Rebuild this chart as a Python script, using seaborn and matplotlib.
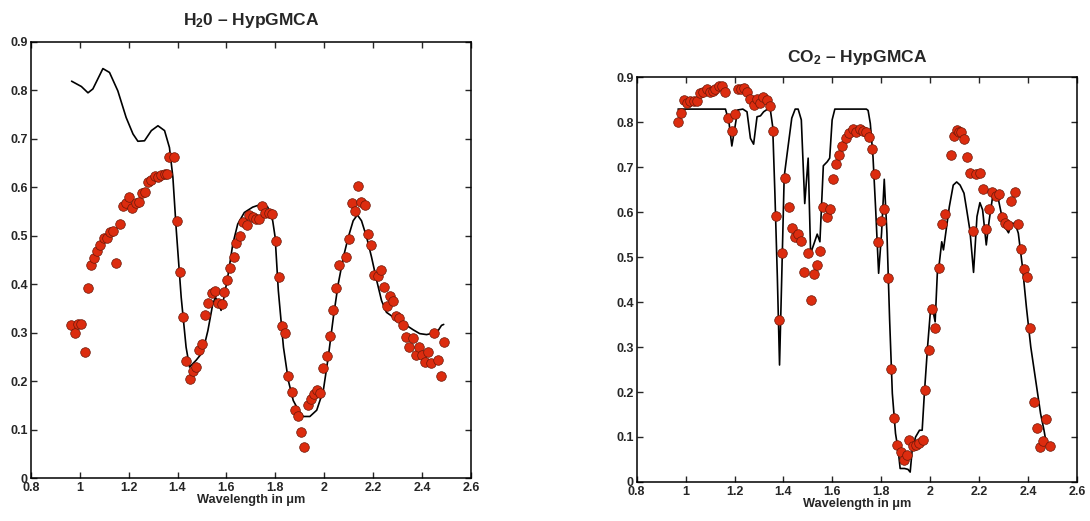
import matplotlib
matplotlib.use("Agg")
import matplotlib.pyplot as plt
import seaborn as sns

# H2O panel - reference spectrum (line) and HypGMCA estimate (dots)
h2o_line_wl = [0.967, 1.007, 1.034, 1.054, 1.095, 1.122, 1.156, 1.19, 1.218, 1.238,
               1.265, 1.293, 1.32, 1.347, 1.367, 1.381, 1.395, 1.415, 1.435, 1.449,
               1.476, 1.503, 1.524, 1.544, 1.555, 1.565, 1.578, 1.588, 1.605, 1.626,
               1.646, 1.673, 1.707, 1.748, 1.769, 1.789, 1.799, 1.812, 1.833, 1.853,
               1.873, 1.894, 1.914, 1.941, 1.969, 1.996, 2.016, 2.037, 2.057, 2.078,
               2.098, 2.118, 2.135, 2.152, 2.173, 2.193, 2.214, 2.234, 2.254, 2.282,
               2.309, 2.336, 2.363, 2.39, 2.418, 2.445, 2.465, 2.479, 2.488]
h2o_line_val = [0.819, 0.808, 0.795, 0.803, 0.845, 0.837, 0.799, 0.744, 0.710, 0.695,
                0.696, 0.717, 0.727, 0.717, 0.682, 0.621, 0.511, 0.373, 0.270, 0.229,
                0.243, 0.260, 0.304, 0.359, 0.373, 0.363, 0.346, 0.368, 0.414, 0.483,
                0.524, 0.548, 0.559, 0.566, 0.559, 0.531, 0.497, 0.387, 0.270, 0.201,
                0.160, 0.140, 0.127, 0.127, 0.140, 0.181, 0.249, 0.332, 0.401, 0.456,
                0.497, 0.531, 0.543, 0.531, 0.497, 0.456, 0.408, 0.366, 0.342, 0.332,
                0.324, 0.315, 0.306, 0.298, 0.296, 0.299, 0.304, 0.315, 0.317]

h2o_pts_wl = [0.966, 0.980, 0.993, 1.007, 1.020, 1.034, 1.045, 1.059, 1.072, 1.084,
              1.098, 1.112, 1.122, 1.136, 1.150, 1.163, 1.177, 1.190, 1.201, 1.215,
              1.229, 1.241, 1.254, 1.268, 1.279, 1.293, 1.306, 1.320, 1.333, 1.347,
              1.358, 1.367, 1.384, 1.396, 1.410, 1.422, 1.435, 1.449, 1.463, 1.476,
              1.487, 1.501, 1.513, 1.525, 1.539, 1.554, 1.566, 1.580, 1.592, 1.603,
              1.616, 1.630, 1.641, 1.654, 1.668, 1.682, 1.694, 1.707, 1.721, 1.735,
              1.746, 1.759, 1.773, 1.786, 1.801, 1.815, 1.829, 1.839, 1.853, 1.867,
              1.879, 1.893, 1.905, 1.918, 1.932, 1.944, 1.958, 1.970, 1.984, 1.996,
              2.010, 2.023, 2.035, 2.049, 2.061, 2.088, 2.101, 2.113, 2.127, 2.139,
              2.151, 2.166, 2.178, 2.192, 2.204, 2.218, 2.230, 2.242, 2.256, 2.269,
              2.282, 2.295, 2.307, 2.320, 2.333, 2.347, 2.361, 2.373, 2.386, 2.399,
              2.411, 2.424, 2.438, 2.450, 2.464, 2.478, 2.488]
h2o_pts_val = [0.316, 0.299, 0.318, 0.318, 0.261, 0.392, 0.440, 0.454, 0.468, 0.481,
               0.495, 0.495, 0.507, 0.509, 0.443, 0.524, 0.561, 0.568, 0.581, 0.557,
               0.568, 0.569, 0.588, 0.591, 0.610, 0.616, 0.624, 0.622, 0.626, 0.627,
               0.627, 0.662, 0.662, 0.531, 0.426, 0.332, 0.241, 0.205, 0.221, 0.229,
               0.265, 0.276, 0.337, 0.361, 0.381, 0.386, 0.361, 0.359, 0.384, 0.408,
               0.433, 0.457, 0.486, 0.500, 0.528, 0.523, 0.543, 0.538, 0.535, 0.535,
               0.561, 0.546, 0.546, 0.545, 0.489, 0.414, 0.313, 0.300, 0.210, 0.177,
               0.141, 0.128, 0.095, 0.064, 0.151, 0.164, 0.174, 0.182, 0.175, 0.227,
               0.251, 0.294, 0.347, 0.392, 0.440, 0.456, 0.493, 0.567, 0.552, 0.603,
               0.569, 0.564, 0.504, 0.481, 0.420, 0.416, 0.430, 0.394, 0.356, 0.375,
               0.365, 0.335, 0.331, 0.315, 0.292, 0.270, 0.289, 0.253, 0.270, 0.253,
               0.239, 0.260, 0.237, 0.299, 0.244, 0.210, 0.280]

# CO2 panel
co2_line_wl = [0.969, 1.163, 1.177, 1.189, 1.202, 1.213, 1.234, 1.251, 1.265, 1.278,
               1.292, 1.306, 1.319, 1.335, 1.346, 1.356, 1.365, 1.375, 1.384, 1.393,
               1.403, 1.417, 1.434, 1.448, 1.460, 1.473, 1.487, 1.501, 1.511, 1.525,
               1.538, 1.549, 1.563, 1.579, 1.589, 1.599, 1.610, 1.739, 1.746, 1.755,
               1.766, 1.777, 1.789, 1.801, 1.812, 1.823, 1.834, 1.845, 1.858, 1.869,
               1.877, 1.895, 1.909, 1.918, 1.926, 1.940, 1.956, 1.967, 1.976, 1.989,
               2.000, 2.010, 2.020, 2.029, 2.037, 2.047, 2.054, 2.065, 2.078, 2.094,
               2.108, 2.122, 2.138, 2.149, 2.162, 2.177, 2.191, 2.203, 2.214, 2.229,
               2.241, 2.255, 2.268, 2.279, 2.293, 2.306, 2.320, 2.333, 2.347, 2.360,
               2.377, 2.393, 2.411, 2.431, 2.451, 2.465, 2.472]
co2_line_val = [0.829, 0.829, 0.801, 0.747, 0.790, 0.827, 0.829, 0.823, 0.764, 0.751,
                0.812, 0.814, 0.823, 0.829, 0.829, 0.790, 0.642, 0.456, 0.260, 0.456,
                0.679, 0.738, 0.809, 0.829, 0.829, 0.805, 0.619, 0.720, 0.508, 0.530,
                0.551, 0.534, 0.703, 0.712, 0.720, 0.805, 0.829, 0.829, 0.826, 0.797,
                0.723, 0.605, 0.464, 0.553, 0.673, 0.553, 0.360, 0.197, 0.108, 0.070,
                0.030, 0.030, 0.028, 0.022, 0.070, 0.100, 0.115, 0.115, 0.197, 0.300,
                0.375, 0.384, 0.356, 0.464, 0.486, 0.534, 0.516, 0.560, 0.612, 0.660,
                0.667, 0.660, 0.642, 0.605, 0.560, 0.466, 0.590, 0.621, 0.605, 0.527,
                0.582, 0.634, 0.638, 0.627, 0.590, 0.567, 0.554, 0.575, 0.575, 0.553,
                0.478, 0.389, 0.300, 0.226, 0.152, 0.115, 0.093]

co2_pts_wl = [0.969, 0.982, 0.994, 1.007, 1.020, 1.033, 1.045, 1.059, 1.072, 1.086,
              1.098, 1.110, 1.122, 1.135, 1.148, 1.162, 1.175, 1.189, 1.202, 1.213,
              1.227, 1.239, 1.251, 1.265, 1.278, 1.291, 1.304, 1.318, 1.331, 1.343,
              1.356, 1.369, 1.383, 1.396, 1.408, 1.422, 1.434, 1.446, 1.460, 1.472,
              1.486, 1.499, 1.511, 1.525, 1.538, 1.551, 1.563, 1.576, 1.590, 1.602,
              1.616, 1.628, 1.641, 1.654, 1.666, 1.685, 1.698, 1.712, 1.725, 1.736,
              1.750, 1.762, 1.774, 1.788, 1.800, 1.812, 1.827, 1.838, 1.852, 1.865,
              1.879, 1.891, 1.904, 1.915, 1.929, 1.942, 1.956, 1.970, 1.980, 1.994,
              2.008, 2.021, 2.034, 2.047, 2.061, 2.086, 2.098, 2.111, 2.118, 2.127,
              2.138, 2.150, 2.162, 2.176, 2.189, 2.203, 2.215, 2.227, 2.241, 2.253,
              2.267, 2.280, 2.293, 2.306, 2.318, 2.332, 2.345, 2.358, 2.370, 2.383,
              2.397, 2.409, 2.423, 2.435, 2.449, 2.461, 2.474, 2.488]
co2_pts_val = [0.800, 0.820, 0.849, 0.843, 0.847, 0.846, 0.847, 0.864, 0.866, 0.873,
               0.866, 0.869, 0.873, 0.881, 0.881, 0.868, 0.810, 0.781, 0.817, 0.873,
               0.873, 0.877, 0.868, 0.851, 0.837, 0.851, 0.843, 0.855, 0.849, 0.836,
               0.781, 0.592, 0.360, 0.508, 0.675, 0.611, 0.564, 0.544, 0.551, 0.536,
               0.467, 0.508, 0.404, 0.462, 0.482, 0.513, 0.611, 0.590, 0.608, 0.673,
               0.707, 0.728, 0.746, 0.764, 0.775, 0.784, 0.777, 0.784, 0.781, 0.779,
               0.768, 0.740, 0.685, 0.533, 0.581, 0.607, 0.454, 0.252, 0.143, 0.083,
               0.067, 0.048, 0.061, 0.094, 0.079, 0.082, 0.087, 0.093, 0.204, 0.293,
               0.384, 0.343, 0.475, 0.573, 0.595, 0.728, 0.770, 0.783, 0.779, 0.779,
               0.763, 0.723, 0.686, 0.559, 0.685, 0.686, 0.651, 0.562, 0.606, 0.644,
               0.636, 0.640, 0.590, 0.575, 0.571, 0.625, 0.644, 0.573, 0.518, 0.473,
               0.455, 0.343, 0.178, 0.120, 0.078, 0.091, 0.139, 0.080]

x_ticks = [0.8, 1, 1.2, 1.4, 1.6, 1.8, 2, 2.2, 2.4, 2.6]
y_ticks = [0, 0.1, 0.2, 0.3, 0.4, 0.5, 0.6, 0.7, 0.8, 0.9]

sns.set_style("ticks")
plt.rcParams["font.family"] = ["Liberation Sans", "DejaVu Sans"]
plt.rcParams["font.weight"] = "bold"
plt.rcParams["mathtext.fontset"] = "custom"
plt.rcParams["mathtext.rm"] = "Liberation Sans:bold"
plt.rcParams["mathtext.bf"] = "Liberation Sans:bold"
plt.rcParams["mathtext.default"] = "rm"

fig = plt.figure(figsize=(10.9, 5.21), dpi=100)
ax1 = fig.add_axes([0.0282, 0.0825, 0.404, 0.837])
ax2 = fig.add_axes([0.5841, 0.0749, 0.404, 0.777])

panels = [
    (ax1, h2o_line_wl, h2o_line_val, h2o_pts_wl, h2o_pts_val, r"H$_{2}$0 – HypGMCA", 12.5),
    (ax2, co2_line_wl, co2_line_val, co2_pts_wl, co2_pts_val, r"CO$_{2}$ – HypGMCA", 11),
]

for ax, lx, ly, px, py, title, pad in panels:
    sns.lineplot(x=lx, y=ly, ax=ax, color="black", linewidth=1.2,
                 estimator=None, sort=False, zorder=2)
    sns.scatterplot(x=px, y=py, ax=ax, color="#dc2c0f", edgecolor="#6b1808",
                    linewidth=0.5, s=48, zorder=3)
    ax.set_xlim(0.8, 2.6)
    ax.set_ylim(0, 0.9)
    ax.set_xticks(x_ticks)
    ax.set_yticks(y_ticks)
    ax.set_xticklabels(["0.8", "1", "1.2", "1.4", "1.6", "1.8", "2", "2.2", "2.4", "2.6"])
    ax.set_yticklabels(["0", "0.1", "0.2", "0.3", "0.4", "0.5", "0.6", "0.7", "0.8", "0.9"])
    ax.tick_params(direction="in", length=4, width=1, top=True, right=True,
                   labelsize=9)
    ax.tick_params(axis="x", pad=3)
    ax.tick_params(axis="y", pad=2)
    for lab in ax.get_xticklabels() + ax.get_yticklabels():
        lab.set_fontweight("bold")
    for sp in ax.spines.values():
        sp.set_visible(True)
        sp.set_linewidth(1.1)
        sp.set_color("black")
    ax.set_xlabel("Wavelength in μm", fontsize=9.2, fontweight="bold", labelpad=0)
    ax.set_ylabel("")
    ax.set_title(title, fontsize=12.5, fontweight="bold", pad=pad)

fig.savefig("out.png", dpi=100)
